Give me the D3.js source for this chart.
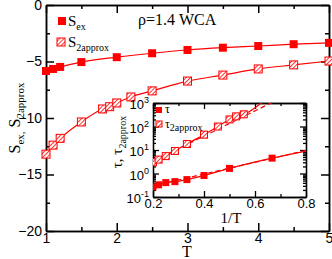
<!DOCTYPE html>
<html>
<head>
<meta charset="utf-8">
<script src="https://cdn.jsdelivr.net/npm/d3@7"></script>
<style>
body { margin: 0; background: #fff; }
svg { font-family: "Liberation Serif", "DejaVu Serif", serif; }
.ax path, .ax line { stroke: #000; stroke-width: 1.5; }
.ax text { font-size: 14px; fill: #000; }
.inax path, .inax line { stroke: #000; stroke-width: 1.3; }
.inax text { font-size: 13px; fill: #000; }
</style>
</head>
<body>
<script>
(function(){

//main panel data
var T_ex = [1.0, 1.1, 1.2, 1.5, 2.0, 2.5, 3.0, 3.5, 4.0, 4.5, 5.0];
var S_ex = [-5.84, -5.66, -5.48, -5.05, -4.62, -4.27, -3.98, -3.78, -3.63, -3.47, -3.35];
var T_ap = [1.0, 1.1, 1.2, 1.5, 1.8, 1.9, 2.0, 2.2, 2.5, 3.0, 3.5, 4.0, 4.5, 5.0];
var S_ap = [-13.2, -12.4, -11.8, -10.35, -9.2, -9.0, -8.67, -8.14, -7.6, -6.73, -6.2, -5.66, -5.3, -4.96];

//inset data (1/T vs tau)
var invT_tau = [0.2, 0.222, 0.25, 0.286, 0.333, 0.4, 0.5, 0.667];
var tau = [0.27, 0.33, 0.41, 0.45, 0.55, 0.82, 1.65, 4.5];
var invT_tau2 = [0.2, 0.222, 0.25, 0.286, 0.333, 0.4, 0.4545, 0.5, 0.526, 0.556, 0.667];
var tau2 = [3.0, 3.9, 5.5, 9.1, 18, 45, 100, 200, 270, 330, 2500];

//dashed fit lines (endpoints)
var fitTau_x = [0.2, 0.8], fitTau_y = [0.3, 9.5];
var fitTau2_x = [0.2, 0.8], fitTau2_y = [3.3, 5500];

//tick values
var xTicks = [1, 2, 3, 4, 5], xMinor = [1.5, 2.5, 3.5, 4.5];
var yTicks = [-20, -15, -10, -5, 0], yMinor = [-17.5, -12.5, -7.5, -2.5];
var ixTicks = [0.2, 0.4, 0.6, 0.8], ixMinor = [0.3, 0.5, 0.7];
var iyTicks = [0.1, 1, 10, 100, 1000];

var width = 332, height = 259;
var svg = d3.select("body").append("svg")
    .attr("width", width).attr("height", height);

var defs = svg.append("defs");
var pat = defs.append("pattern")
    .attr("id", "hatch").attr("patternUnits", "userSpaceOnUse")
    .attr("width", 3).attr("height", 3)
    .attr("patternTransform", "rotate(45)");
pat.append("rect").attr("width", 3).attr("height", 3).attr("fill", "#fff");
pat.append("line").attr("x1", 0).attr("y1", 0).attr("x2", 0).attr("y2", 3)
    .attr("stroke", "red").attr("stroke-width", 1.6);

var red = "#ff0000";

//main scales
var x = d3.scaleLinear().domain([1, 5]).range([46, 329]);
var y = d3.scaleLinear().domain([-20, 0]).range([231, 5]);

//draws a boxed frame with inward ticks on all four sides, returns left and bottom label axes
function frameAxes(g, xs, ys, xt, xm, yt, ym, cls, xfmt, yfmt, major, minor) {
    var x0 = xs.range()[0], x1 = xs.range()[1], y0 = ys.range()[0], y1 = ys.range()[1];
    //bottom
    g.append("g").attr("class", cls).attr("transform", "translate(0," + y0 + ")")
        .call(d3.axisBottom(xs).tickValues(xm).tickSize(-minor).tickFormat("").tickSizeOuter(0));
    var ba = g.append("g").attr("class", cls).attr("transform", "translate(0," + y0 + ")")
        .call(d3.axisBottom(xs).tickValues(xt).tickSizeInner(-major).tickSizeOuter(0).tickPadding(2).tickFormat(xfmt));
    //top
    g.append("g").attr("class", cls).attr("transform", "translate(0," + y1 + ")")
        .call(d3.axisTop(xs).tickValues(xm).tickSize(-minor).tickFormat("").tickSizeOuter(0));
    g.append("g").attr("class", cls).attr("transform", "translate(0," + y1 + ")")
        .call(d3.axisTop(xs).tickValues(xt).tickSize(-major).tickFormat("").tickSizeOuter(0));
    //left
    g.append("g").attr("class", cls).attr("transform", "translate(" + x0 + ",0)")
        .call(d3.axisLeft(ys).tickValues(ym).tickSize(-minor).tickFormat("").tickSizeOuter(0));
    var la = g.append("g").attr("class", cls).attr("transform", "translate(" + x0 + ",0)")
        .call(d3.axisLeft(ys).tickValues(yt).tickSizeInner(-major).tickSizeOuter(0).tickPadding(4).tickFormat(yfmt));
    //right
    g.append("g").attr("class", cls).attr("transform", "translate(" + x1 + ",0)")
        .call(d3.axisRight(ys).tickValues(ym).tickSize(-minor).tickFormat("").tickSizeOuter(0));
    g.append("g").attr("class", cls).attr("transform", "translate(" + x1 + ",0)")
        .call(d3.axisRight(ys).tickValues(yt).tickSize(-major).tickFormat("").tickSizeOuter(0));
    return [la, ba];
}

var main = svg.append("g");
frameAxes(main, x, y, xTicks, xMinor, yTicks, yMinor, "ax", d3.format(""), d3.format(""), 8, 4);

var line = d3.line().curve(d3.curveMonotoneX);

main.append("path")
    .attr("d", line(T_ex.map(function(t, i){ return [x(t), y(S_ex[i])]; })))
    .attr("fill", "none").attr("stroke", red).attr("stroke-width", 1.2);
main.append("path")
    .attr("d", line(T_ap.map(function(t, i){ return [x(t), y(S_ap[i])]; })))
    .attr("fill", "none").attr("stroke", red).attr("stroke-width", 1.2);

var ms = 8;
main.selectAll(".pex").data(T_ex).enter().append("rect")
    .attr("x", function(d){ return x(d) - ms / 2; })
    .attr("y", function(d, i){ return y(S_ex[i]) - ms / 2; })
    .attr("width", ms).attr("height", ms).attr("fill", red);
main.selectAll(".pap").data(T_ap).enter().append("rect")
    .attr("x", function(d){ return x(d) - ms / 2; })
    .attr("y", function(d, i){ return y(S_ap[i]) - ms / 2; })
    .attr("width", ms).attr("height", ms).attr("fill", "url(#hatch)")
    .attr("stroke", red).attr("stroke-width", 1);

//main legend
main.append("rect").attr("x", 58).attr("y", 17).attr("width", 8).attr("height", 8).attr("fill", red);
var t1 = main.append("text").attr("x", 68).attr("y", 26).attr("font-size", 15);
t1.append("tspan").text("S");
t1.append("tspan").attr("font-size", 10).attr("dy", 4).text("ex");
main.append("rect").attr("x", 57).attr("y", 38).attr("width", 8).attr("height", 8)
    .attr("fill", "url(#hatch)").attr("stroke", red);
var t2 = main.append("text").attr("x", 68).attr("y", 47).attr("font-size", 15);
t2.append("tspan").text("S");
t2.append("tspan").attr("font-size", 10).attr("dy", 4).text("2approx");

main.append("text").attr("x", 138).attr("y", 25).attr("font-size", 16).text("ρ=1.4 WCA");

//axis labels
main.append("text").attr("x", 187).attr("y", 257).attr("text-anchor", "middle")
    .attr("font-size", 16).text("T");
var yl = main.append("text").attr("transform", "translate(20,118) rotate(-90)")
    .attr("text-anchor", "middle").attr("font-size", 16);
yl.append("tspan").text("S");
yl.append("tspan").attr("font-size", 11).attr("dy", 4).text("ex,");
yl.append("tspan").attr("dy", -4).text(" S");
yl.append("tspan").attr("font-size", 11).attr("dy", 4).text("2approx");

//inset
var ix = d3.scaleLinear().domain([0.2, 0.8]).range([153, 306]);
var iy = d3.scaleLog().domain([0.1, 1000]).range([197, 103]);

var inset = svg.append("g");
inset.append("rect").attr("x", 153).attr("y", 103).attr("width", 153).attr("height", 94).attr("fill", "#fff");

defs.append("clipPath").attr("id", "inclip").append("rect")
    .attr("x", 153).attr("y", 103).attr("width", 153).attr("height", 94);

//minor log ticks 2..9 in each decade
var minorLog = [];
iyTicks.slice(0, -1).forEach(function(b){
    for (var k = 2; k <= 9; k++) minorLog.push(b * k);
});

var axs = frameAxes(inset, ix, iy, ixTicks, ixMinor, iyTicks, minorLog, "inax",
    d3.format(".1f"), function(){ return ""; }, 6, 3);
axs[0].selectAll(".tick text").each(function(d){
    var e = Math.round(Math.log10(d));
    var t = d3.select(this);
    t.text("");
    t.append("tspan").text("10");
    t.append("tspan").attr("font-size", 9).attr("dy", -6).text(e);
});
axs[0].selectAll(".tick text").attr("dy", "0.45em");

var inl = inset.append("g").attr("clip-path", "url(#inclip)");
var lline = d3.line().curve(d3.curveMonotoneX);
inl.append("path")
    .attr("d", lline(invT_tau.map(function(v, i){ return [ix(v), iy(tau[i])]; }).concat([[ix(0.8), iy(9.0)]])))
    .attr("fill", "none").attr("stroke", red).attr("stroke-width", 1.2);
inl.append("path")
    .attr("d", lline(invT_tau2.map(function(v, i){ return [ix(v), iy(tau2[i])]; })))
    .attr("fill", "none").attr("stroke", red).attr("stroke-width", 1.2);
inl.append("path")
    .attr("d", d3.line()(fitTau_x.map(function(v, i){ return [ix(v), iy(fitTau_y[i])]; })))
    .attr("fill", "none").attr("stroke", red).attr("stroke-width", 1.2).attr("stroke-dasharray", "5,3");
inl.append("path")
    .attr("d", d3.line()(fitTau2_x.map(function(v, i){ return [ix(v), iy(fitTau2_y[i])]; })))
    .attr("fill", "none").attr("stroke", red).attr("stroke-width", 1.2).attr("stroke-dasharray", "5,3");

var im = 7;
inl.selectAll(".ptau").data(invT_tau).enter().append("rect")
    .attr("x", function(d){ return ix(d) - im / 2; })
    .attr("y", function(d, i){ return iy(tau[i]) - im / 2; })
    .attr("width", im).attr("height", im).attr("fill", red);
inl.selectAll(".ptau2").data(invT_tau2).enter().append("rect")
    .attr("x", function(d){ return ix(d) - im / 2; })
    .attr("y", function(d, i){ return iy(tau2[i]) - im / 2; })
    .attr("width", im).attr("height", im).attr("fill", "url(#hatch)")
    .attr("stroke", red).attr("stroke-width", 1);

//inset legend
inset.append("rect").attr("x", 156).attr("y", 107).attr("width", 6).attr("height", 6).attr("fill", red);
inset.append("text").attr("x", 165).attr("y", 113).attr("font-size", 12).text("τ");
inset.append("rect").attr("x", 156).attr("y", 121).attr("width", 6).attr("height", 6)
    .attr("fill", "url(#hatch)").attr("stroke", red);
var it = inset.append("text").attr("x", 165).attr("y", 128).attr("font-size", 12);
it.append("tspan").text("τ");
it.append("tspan").attr("font-size", 10).attr("dy", 3).text("2approx");

inset.append("text").attr("x", 231).attr("y", 223).attr("text-anchor", "middle")
    .attr("font-size", 15).text("1/T");
var iyl = inset.append("text").attr("transform", "translate(122,142) rotate(-90)")
    .attr("text-anchor", "middle").attr("font-size", 15);
iyl.append("tspan").text("τ, τ");
iyl.append("tspan").attr("font-size", 10).attr("dy", 4).text("2approx");

})();
</script>
</body>
</html>
